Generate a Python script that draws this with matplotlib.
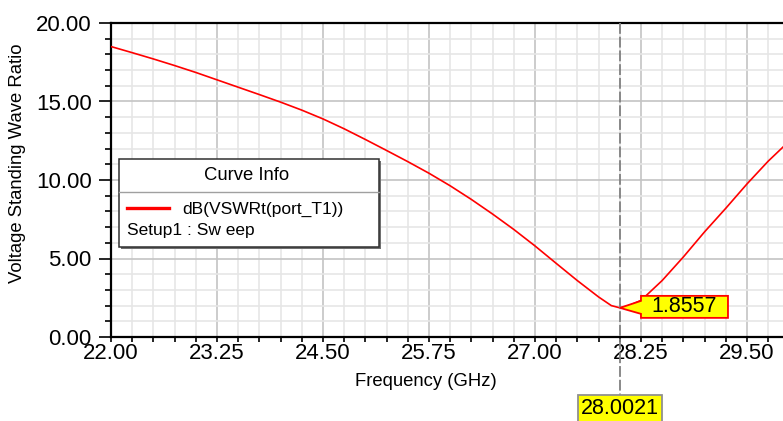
import matplotlib
matplotlib.use("Agg")
import matplotlib.pyplot as plt
from matplotlib.ticker import MultipleLocator, FixedLocator, FormatStrFormatter
from matplotlib.patches import Polygon, Rectangle
from matplotlib.lines import Line2D
from matplotlib.transforms import IdentityTransform

plt.rcParams['font.family'] = ['Liberation Sans', 'DejaVu Sans']

# Swept VSWR (dB) of port_T1 versus frequency
freq_ghz = [22.00, 22.25, 22.50, 22.75, 23.00, 23.25, 23.50, 23.75, 24.00, 24.25,
            24.50, 24.75, 25.00, 25.25, 25.50, 25.75, 26.00, 26.25, 26.50, 26.75,
            27.00, 27.25, 27.50, 27.75, 27.90, 28.0021, 28.10, 28.25, 28.50, 28.75,
            29.00, 29.25, 29.50, 29.75, 29.925]
vswr_db = [18.50, 18.11, 17.71, 17.29, 16.85, 16.38, 15.91, 15.44, 14.96, 14.45,
           13.89, 13.26, 12.58, 11.88, 11.17, 10.43, 9.63, 8.76, 7.83, 6.85,
           5.80, 4.69, 3.59, 2.55, 2.00, 1.8557, 1.98, 2.33, 3.60, 5.10,
           6.70, 8.20, 9.75, 11.20, 12.10]

x_ticks = [22.00, 23.25, 24.50, 25.75, 27.00, 28.25, 29.50]
y_ticks = [0.0, 5.0, 10.0, 15.0, 20.0]

marker_x = 28.0021
marker_y = 1.8557

curve_name = "dB(VSWRt(port_T1))"
setup_name = "Setup1 : Sw eep"

W, H = 783, 421
fig = plt.figure(figsize=(W / 100, H / 100), dpi=100)
ax = fig.add_axes([111 / W, 84 / H, (W - 111) / W, 314 / H])
ax.set_xlim(22.0, 22.0 + 672 / 84.8)
ax.set_ylim(0, 20)

ax.xaxis.set_major_locator(FixedLocator(x_ticks))
ax.xaxis.set_minor_locator(MultipleLocator(0.25))
ax.yaxis.set_major_locator(FixedLocator(y_ticks))
ax.yaxis.set_minor_locator(MultipleLocator(1))
ax.xaxis.set_major_formatter(FormatStrFormatter('%.2f'))
ax.yaxis.set_major_formatter(FormatStrFormatter('%.2f'))

ax.set_axisbelow(True)
ax.grid(which='minor', color='#e6e6e6', lw=1.2)
ax.grid(which='major', color='#c4c4c4', lw=1.2)

for side in ('left', 'top', 'bottom'):
    ax.spines[side].set_linewidth(1.6)
    ax.spines[side].set_color('black')
ax.spines['right'].set_visible(False)

ax.tick_params(axis='y', which='major', length=9, width=1.2, pad=5, labelsize=16)
ax.tick_params(axis='y', which='minor', length=4.5, width=1.2)
ax.tick_params(axis='x', which='both', length=3.5, width=1.2, pad=1, labelsize=16)

ax.plot(freq_ghz, vswr_db, color='red', lw=1.2, zorder=3)

fig.text(18 / W, (H - 163) / H, "Voltage Standing Wave Ratio", rotation=90,
         ha='center', va='center', fontsize=13.3)
fig.text(426 / W, (H - 381) / H, "Frequency (GHz)", ha='center', va='center',
         fontsize=13.3)

ident = IdentityTransform()


def dy(y):
    # top-down pixel row -> display y
    return H - y


# Curve info box
fig.patches.append(Rectangle((121, dy(249)), 260, 88, transform=ident,
                             facecolor='#707070', edgecolor='none', zorder=4))
fig.patches.append(Rectangle((119, dy(247)), 260, 88, transform=ident,
                             facecolor='white', edgecolor='#303030', lw=1.1, zorder=5))
fig.lines.append(Line2D([119, 379], [dy(192), dy(192)], transform=ident,
                        color='#a0a0a0', lw=1.0, zorder=6))
fig.text(247, dy(175), "Curve Info", transform=ident, ha='center', va='center',
         fontsize=13.3, zorder=7)
fig.lines.append(Line2D([127, 169], [dy(208), dy(208)], transform=ident,
                        color='red', lw=2.4, zorder=6))
fig.text(182, dy(209), curve_name, transform=ident, ha='left', va='center',
         fontsize=12.5, zorder=7)
fig.text(127, dy(230), setup_name, transform=ident, ha='left', va='center',
         fontsize=12.5, zorder=7)

# Marker: dashed frequency line, value tag and frequency tag
mx, my = ax.transData.transform((marker_x, marker_y))
ax_top = ax.transData.transform((marker_x, 20))[1]
fig.lines.append(Line2D([mx, mx], [ax_top, dy(395)], transform=ident,
                        color='#808080', lw=1.3, dashes=(6, 1.6), zorder=2))

tag = [(mx, my), (mx + 21, my + 7), (mx + 21, my + 12), (mx + 108, my + 12),
       (mx + 108, my - 10), (mx + 21, my - 10), (mx + 21, my - 6)]
fig.patches.append(Polygon(tag, closed=True, transform=ident, facecolor='#ffff00',
                           edgecolor='#ff0000', lw=1.3, zorder=8))
fig.text(mx + 64.5, my + 1, f"{marker_y:.4f}", transform=ident, ha='center',
         va='center', fontsize=15.5, zorder=9)

fig.patches.append(Rectangle((mx - 42, -5), 84, dy(395) + 5, transform=ident,
                             facecolor='#ffff00', edgecolor='#909090', lw=1.3, zorder=8))
fig.text(mx, dy(409), f"{marker_x:.4f}", transform=ident, ha='center',
         va='center', fontsize=15.5, zorder=9)

fig.savefig("out.png", dpi=100)
